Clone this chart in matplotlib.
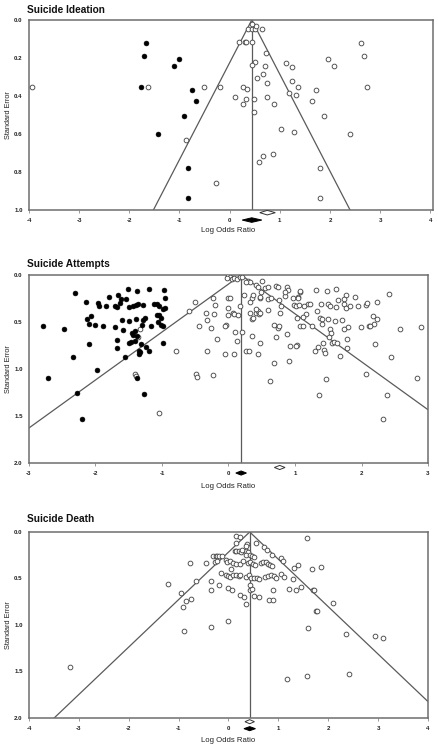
import matplotlib
matplotlib.use("Agg")
import matplotlib.pyplot as plt
from matplotlib.patches import Polygon
import numpy as np

plt.rcParams['font.family'] = ['Liberation Sans', 'DejaVu Sans']

# ---------------- Data ----------------
titles = ["Suicide Ideation", "Suicide Attempts", "Suicide Death"]
x_label = "Log Odds Ratio"
y_label = "Standard Error"

# Panel 1: Suicide Ideation
ideation_center = 0.44
ideation_xticks = [-4, -3, -2, -1, 0, 1, 2, 3, 4]
ideation_yticks = [0.0, 0.2, 0.4, 0.6, 0.8, 1.0]
ideation_open_lor = [-3.94, -1.62, -0.51, -0.20, -0.88, -0.28, 0.19, 0.30, 0.32, 0.44,
                     0.36, 0.44, 0.50, 0.53, 0.64, 0.45, 0.73, 0.51, 0.45, 0.70,
                     0.66, 0.55, 0.75, 0.27, 0.34, 0.11, 0.32, 0.48, 0.75, 0.26,
                     0.89, 0.48, 1.13, 1.24, 1.24, 1.37, 1.18, 1.33, 1.72, 1.65,
                     1.89, 1.97, 2.07, 2.62, 2.67, 2.73, 1.03, 1.28, 2.39, 0.87,
                     0.66, 0.58, 1.80, 1.80]
ideation_open_se = [0.351, 0.351, 0.351, 0.354, 0.63, 0.86, 0.118, 0.118, 0.118, 0.118,
                    0.047, 0.047, 0.047, 0.032, 0.049, 0.02, 0.172, 0.219, 0.237, 0.244,
                    0.284, 0.307, 0.33, 0.351, 0.365, 0.407, 0.416, 0.414, 0.407, 0.444,
                    0.444, 0.486, 0.228, 0.246, 0.319, 0.354, 0.386, 0.395, 0.368, 0.426,
                    0.505, 0.205, 0.24, 0.123, 0.189, 0.354, 0.575, 0.588, 0.60, 0.707,
                    0.716, 0.746, 0.777, 0.935]
ideation_filled_lor = [-1.66, -1.71, -1.01, -1.11, -1.76, -0.75, -0.68, -0.92, -1.42, -0.83, -0.84]
ideation_filled_se = [0.123, 0.189, 0.205, 0.24, 0.354, 0.368, 0.428, 0.505, 0.60, 0.777, 0.935]
# summary diamonds: (estimate, lower, upper)
ideation_observed = (0.75, 0.60, 0.91)
ideation_adjusted = (0.44, 0.25, 0.64)

# Panel 2: Suicide Attempts
attempts_center = 0.19
attempts_xticks = [-3, -2, -1, 0, 1, 2, 3]
attempts_yticks = [0.0, 0.5, 1.0, 1.5, 2.0]
attempts_filled_lor = [-2.31, -1.51, -1.37, -1.20, -0.97, -1.80, -1.66, -1.61, -1.54, -0.96,
                       -2.14, -1.96, -1.94, -1.84, -1.71, -1.68, -1.63, -1.50, -1.43, -1.39,
                       -1.36, -1.28, -1.12, -1.07, -1.04, -0.99, -0.96, -2.06, -2.13, -2.09,
                       -2.01, -1.89, -1.70, -1.60, -1.50, -1.39, -1.28, -1.26, -1.30, -1.16,
                       -1.08, -1.04, -1.01, -1.06, -1.02, -0.99, -2.79, -2.48, -1.59, -1.45,
                       -1.41, -1.44, -1.38, -1.67, -1.50, -1.46, -1.41, -1.31, -1.24, -1.20,
                       -1.34, -1.33, -1.35, -1.68, -2.09, -0.98, -2.34, -1.56, -2.71, -1.97,
                       -1.37, -2.28, -1.27, -2.21]
attempts_filled_se = [0.195, 0.149, 0.167, 0.149, 0.163, 0.234, 0.21, 0.259, 0.259, 0.245,
                      0.291, 0.302, 0.330, 0.330, 0.327, 0.341, 0.302, 0.341, 0.330, 0.320,
                      0.305, 0.316, 0.305, 0.305, 0.334, 0.359, 0.352, 0.433, 0.469, 0.519,
                      0.536, 0.547, 0.558, 0.483, 0.494, 0.469, 0.476, 0.458, 0.529, 0.540,
                      0.423, 0.430, 0.458, 0.504, 0.529, 0.540, 0.547, 0.575, 0.583, 0.618,
                      0.600, 0.636, 0.654, 0.689, 0.725, 0.718, 0.700, 0.732, 0.771, 0.813,
                      0.806, 0.824, 0.838, 0.779, 0.735, 0.729, 0.877, 0.87, 1.098, 1.016,
                      1.10, 1.26, 1.27, 1.53]
attempts_open_lor = [-1.33, -1.36, -1.41, -1.39, -1.05,
                     -0.51, -0.59, -0.23, -0.21, -0.34, -0.22, -0.32, -0.44, -0.27, -0.18,
                     0.00, 0.03, 0.00, 0.00, 0.07, 0.09, 0.14, 0.17, -0.04, -0.05,
                     0.10, 0.20, 0.13, -0.79, -0.33, -0.06, 0.08, -0.49, -0.47, -0.23,
                     0.27, 0.31, 0.44, 0.63, 0.68, 0.91, 0.47, 0.36, 0.36, 0.37,
                     0.33, 0.41, 0.44, 0.46, 0.47, 0.35, 0.37, 0.33, 0.23, 0.29,
                     0.33, 0.27, 0.41, 0.44, 0.51, 0.55, 0.59, 0.71, 0.75, 0.88,
                     0.90, 0.59, 0.47, 0.48, 0.64, 0.76, 0.79, 0.78, 0.68, 0.74,
                     0.76, 0.71, 0.88, 0.93, 1.03, 0.59, 0.42, 0.49, 0.85, 0.97,
                     0.99, 1.02, 1.04, 1.07, 0.85,
                     0.00, 0.03, 0.06, 0.09, 0.13, 0.17, -0.02, 0.20,
                     1.07, 1.31, 1.48, 1.62, 1.77, 1.90, 2.42, 1.04, 1.06, 1.19,
                     1.23, 1.14, 1.33, 1.39, 1.49, 1.53, 1.61, 1.65, 1.73, 1.74,
                     1.77, 1.82, 1.95, 2.06, 2.08, 2.24, 1.17, 1.12, 1.03, 1.38,
                     1.40, 1.49, 1.60, 1.70, 2.17, 2.23, 2.19, 2.11, 2.13, 1.99,
                     1.80, 1.73, 1.08, 1.12, 1.26, 1.40, 1.53, 1.54, 1.51, 1.55,
                     1.59, 1.63, 1.78, 2.58, 2.90, 1.02, 1.30, 1.35, 1.43, 1.42,
                     1.45, 1.78, 2.20, 1.68, 2.45, 1.47, 2.07, 2.83, 1.36, 2.39,
                     2.32]
attempts_open_se = [0.57, 0.66, 1.055, 1.08, 1.47,
                    0.29, 0.38, 0.24, 0.32, 0.405, 0.42, 0.475, 0.54, 0.565, 0.68,
                    0.24, 0.24, 0.35, 0.43, 0.41, 0.42, 0.43, 0.33, 0.53, 0.54,
                    0.61, 0.61, 0.70, 0.81, 0.81, 0.84, 0.84, 1.05, 1.09, 1.06,
                    0.81, 0.81, 0.84, 1.13, 0.94, 0.92, 0.72, 0.65, 0.47, 0.46,
                    0.405, 0.41, 0.38, 0.42, 0.41, 0.245, 0.21, 0.29, 0.21, 0.06,
                    0.07, 0.075, 0.11, 0.13, 0.06, 0.14, 0.13, 0.12, 0.13, 0.13,
                    0.155, 0.26, 0.25, 0.23, 0.245, 0.27, 0.33, 0.405, 0.53, 0.565,
                    0.54, 0.66, 0.63, 0.76, 0.75, 0.37, 0.36, 0.18, 0.22, 0.245,
                    0.315, 0.33, 0.23, 0.18, 0.18,
                    0.01, 0.025, 0.04, 0.03, 0.04, 0.025, 0.03, 0.02,
                    0.174, 0.156, 0.167, 0.149, 0.21, 0.238, 0.199, 0.24, 0.32, 0.305,
                    0.305, 0.334, 0.38, 0.31, 0.305, 0.33, 0.34, 0.27, 0.255, 0.305,
                    0.35, 0.33, 0.33, 0.32, 0.30, 0.29, 0.42, 0.45, 0.46, 0.46,
                    0.47, 0.47, 0.487, 0.483, 0.433, 0.47, 0.522, 0.54, 0.54, 0.554,
                    0.554, 0.575, 0.547, 0.547, 0.54, 0.522, 0.58, 0.618, 0.66, 0.72,
                    0.715, 0.725, 0.68, 0.575, 0.554, 0.76, 0.81, 0.77, 0.80, 0.725,
                    0.825, 0.778, 0.735, 0.867, 0.874, 1.108, 1.055, 1.10, 1.275, 1.275,
                    1.53]
attempts_observed = (0.77, 0.69, 0.85)
attempts_adjusted = (0.19, 0.11, 0.27)

# Panel 3: Suicide Death
death_center = 0.425
death_xticks = [-4, -3, -2, -1, 0, 1, 2, 3, 4]
death_yticks = [0.0, 0.5, 1.0, 1.5, 2.0]
death_open_lor = [0.16, 0.23, 1.57, 0.56, 0.37, 0.35, 0.16, 0.72, 0.77, 0.13,
                  0.16, 0.21, 0.26, 0.35, 0.39, 0.88, -0.31, -0.25, -0.23, -0.19,
                  -0.14, 0.35, 0.43, 0.48, 0.52, -0.05, -0.03, 0.03, 0.09, 0.16,
                  0.23, -0.77, -0.45, -0.27, -0.23, 0.29, 0.39, 0.43, 0.49, 0.54,
                  0.66, 0.70, 0.76, 0.79, 0.84, 0.88, 1.06, 1.09, 1.32, 1.39,
                  -0.16, -0.05, -0.01, 0.04, 0.09, 0.16, 0.21, 0.24, 0.35, 0.41,
                  0.46, 0.52, 0.57, 0.61, 0.74, 0.79, 0.86, 0.92, 0.96, 1.06,
                  1.12, -1.21, -0.65, -0.35, -0.20, -0.36, -0.01, 0.08, 0.24, 0.31,
                  0.36, 0.43, 0.48, 0.52, 0.61, 0.81, 0.89, 0.89, 1.21, 1.36,
                  1.46, 1.30, 1.69, 1.75, -0.96, -0.85, -0.76, -0.92, -0.01,
                  -3.18, -0.35, -0.90, 1.59, 2.35, 2.93, 3.10, 2.09, 1.77, 1.71,
                  1.67, 1.85, 1.17, 1.57, 2.42, 0.05, 0.28, 0.44]
death_open_se = [0.047, 0.054, 0.065, 0.118, 0.129, 0.15, 0.118, 0.165, 0.19, 0.20,
                 0.20, 0.20, 0.21, 0.20, 0.22, 0.244, 0.26, 0.255, 0.255, 0.26,
                 0.26, 0.25, 0.244, 0.26, 0.27, 0.30, 0.32, 0.315, 0.333, 0.344,
                 0.344, 0.333, 0.333, 0.32, 0.315, 0.315, 0.333, 0.326, 0.344, 0.35,
                 0.333, 0.326, 0.32, 0.344, 0.35, 0.37, 0.28, 0.31, 0.387, 0.36,
                 0.44, 0.466, 0.477, 0.487, 0.459, 0.466, 0.477, 0.459, 0.487, 0.466,
                 0.495, 0.50, 0.495, 0.51, 0.487, 0.477, 0.466, 0.477, 0.50, 0.45,
                 0.487, 0.56, 0.523, 0.53, 0.573, 0.62, 0.60, 0.62, 0.674, 0.70,
                 0.77, 0.62, 0.61, 0.69, 0.695, 0.73, 0.73, 0.624, 0.61, 0.627,
                 0.59, 0.51, 0.62, 0.846, 0.656, 0.738, 0.717, 0.81, 0.953,
                 1.45, 1.025, 1.07, 1.03, 1.10, 1.12, 1.14, 0.76, 0.85, 0.62,
                 0.40, 0.376, 1.58, 1.545, 1.527, 0.40, 0.19, 0.57]
death_observed = (0.425, 0.33, 0.52)
death_adjusted = (0.425, 0.31, 0.54)

panels = [
    dict(title=titles[0], center=ideation_center, xlim=(-4.0, 4.05), ylim=1.0,
         xticks=ideation_xticks, yticks=ideation_yticks, yfmt="{:.1f}",
         open=(ideation_open_lor, ideation_open_se),
         filled=(ideation_filled_lor, ideation_filled_se),
         obs=ideation_observed, adj=ideation_adjusted,
         d_obs_y=1.014, d_adj_y=1.053, d_h=0.012,
         rect=[0.066, 0.72, 0.920, 0.2533], title_y=0.9867, xlabel_y=0.692),
    dict(title=titles[1], center=attempts_center, xlim=(-3.0, 3.0), ylim=2.0,
         xticks=attempts_xticks, yticks=attempts_yticks, yfmt="{:.1f}",
         open=(attempts_open_lor, attempts_open_se),
         filled=(attempts_filled_lor, attempts_filled_se),
         obs=attempts_observed, adj=attempts_adjusted,
         d_obs_y=2.048, d_adj_y=2.107, d_h=0.022,
         rect=[0.066, 0.3827, 0.909, 0.2507], title_y=0.648, xlabel_y=0.352),
    dict(title=titles[2], center=death_center, xlim=(-4.0, 3.98), ylim=2.0,
         xticks=death_xticks, yticks=death_yticks, yfmt="{:.1f}",
         open=(death_open_lor, death_open_se), filled=None,
         obs=death_observed, adj=death_adjusted,
         d_obs_y=2.04, d_adj_y=2.115, d_h=0.022,
         rect=[0.066, 0.0427, 0.909, 0.248], title_y=0.308, xlabel_y=0.012),
]

frame_col = "#6e6e6e"
line_col = "#5a5a5a"
text_col = "#222222"

fig = plt.figure(figsize=(4.39, 7.5), dpi=100)

for p in panels:
    ax = fig.add_axes(p["rect"])
    x0, x1 = p["xlim"]
    ymax = p["ylim"]
    c = p["center"]
    ax.set_xlim(x0, x1)
    ax.set_ylim(ymax, 0)
    for s in ax.spines.values():
        s.set_color(frame_col)
        s.set_linewidth(1.1)
    # funnel
    ax.plot([c - 1.96 * ymax, c, c + 1.96 * ymax], [ymax, 0, ymax],
            color=line_col, lw=0.9, zorder=2)
    ax.plot([c, c], [0, ymax], color=line_col, lw=0.9, zorder=2)
    # points
    ax.plot(p["open"][0], p["open"][1], linestyle="none", marker="o", ms=3.4,
            mfc="white", mec="#4a4a4a", mew=0.65, zorder=3)
    if p["filled"] is not None:
        ax.plot(p["filled"][0], p["filled"][1], linestyle="none", marker="o", ms=3.5,
                mfc="black", mec="black", mew=0.4, zorder=4)
    # diamonds
    est, lo, hi = p["obs"]
    yy, h = p["d_obs_y"], p["d_h"]
    ax.add_patch(Polygon([(lo, yy), (est, yy - h), (hi, yy), (est, yy + h)],
                         closed=True, facecolor="white", edgecolor="#333333",
                         lw=0.7, clip_on=False, zorder=5))
    est, lo, hi = p["adj"]
    yy = p["d_adj_y"]
    ax.add_patch(Polygon([(lo, yy), (est, yy - h), (hi, yy), (est, yy + h)],
                         closed=True, facecolor="black", edgecolor="black",
                         lw=0.7, clip_on=False, zorder=5))
    # ticks
    ax.set_xticks(p["xticks"])
    ax.set_xticklabels([str(t) for t in p["xticks"]])
    ax.set_yticks(p["yticks"])
    ax.set_yticklabels([p["yfmt"].format(t) for t in p["yticks"]])
    ax.tick_params(axis="x", length=2, width=0.6, color="#888888", pad=4,
                   labelsize=4.4, labelcolor=text_col)
    ax.tick_params(axis="y", length=0, pad=4.5, labelsize=4.4, labelcolor=text_col)
    for lab in ax.get_xticklabels() + ax.get_yticklabels():
        lab.set_fontweight("bold")
    # labels
    fig.text(0.0615, p["title_y"], p["title"], ha="left", va="center",
             fontsize=7.3, fontweight="bold", color="#111111")
    bottom = p["rect"][1]
    height = p["rect"][3]
    fig.text(0.019, bottom + height / 2, y_label, rotation=90, ha="center",
             va="center", fontsize=5.3, color=text_col)
    fig.text(0.52, p["xlabel_y"], x_label, ha="center", va="center",
             fontsize=5.6, color=text_col)

fig.savefig("out.png", dpi=100)
